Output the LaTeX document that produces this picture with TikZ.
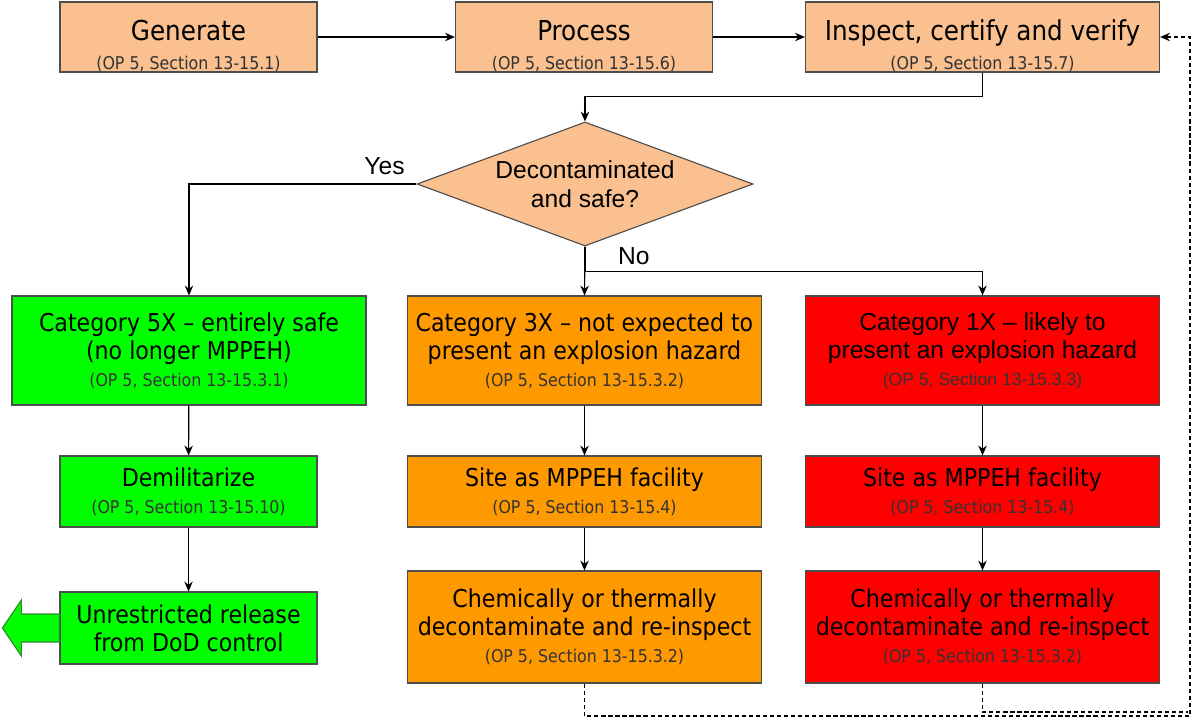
\documentclass[tikz,border=0pt]{standalone}
\usepackage{fontspec}
\setmainfont{DejaVu Sans Condensed}
\newfontfamily\arialfont[Ligatures=TeX]{Liberation Sans}
\usetikzlibrary{shapes.geometric,arrows.meta}

\definecolor{peach}{HTML}{FAC090}
\definecolor{safegreen}{HTML}{00FF00}
\definecolor{hazorange}{HTML}{FF9900}
\definecolor{hazred}{HTML}{FF0000}
\definecolor{edgegrey}{HTML}{4D4D4D}

\newcommand\opref[1]{\\[-1pt]{\fontsize{12.5}{14}\selectfont\color{black!80}(OP 5, Section #1)}}
\newcommand\headstrut{\rule{0pt}{27pt}}

\begin{document}
\begin{tikzpicture}[
		x=0.025cm, y=-0.025cm,
		line width=0.8pt,
		>={Stealth[length=7pt, width=6pt]},
		box/.style={draw=edgegrey, align=center, inner sep=0pt, font=\fontsize{17.5}{20}\selectfont},
		narrow/.style={box, minimum width=6.425cm},
		wide/.style={box, minimum width=8.85cm},
		headbox/.style={fill=peach, minimum height=1.75cm, font=\fontsize{19.5}{22}\selectfont},
		decision/.style={diamond, draw=edgegrey, fill=peach, aspect=2.7, inner sep=0pt,
			minimum width=8.4cm, minimum height=3.1cm, align=center,
			font=\arialfont\fontsize{17.5}{21}\selectfont},
		answer/.style={font=\arialfont\fontsize{17.5}{21}\selectfont},
		loopback/.style={dashed, dash pattern=on 3pt off 2pt}
	]
		\useasboundingbox (0,0) rectangle (1195,719);

		% Top row
		\node[narrow, headbox] (gen) at (188.5, 37) {\headstrut Generate\opref{13-15.1}};
		\node[narrow, headbox] (proc) at (584, 37) {\headstrut Process\opref{13-15.6}};
		\node[wide, headbox] (insp) at (982.5, 37) {\headstrut Inspect, certify and verify\opref{13-15.7}};

		% Decision
		\node[decision] (dec) at (585, 184) {Decontaminated\\and safe?};

		% Categories
		\node[wide, fill=safegreen, minimum height=2.725cm] (cat5) at (189, 350.5)
			{Category 5X -- entirely safe\\(no longer MPPEH)\opref{13-15.3.1}};
		\node[wide, fill=hazorange, minimum height=2.725cm] (cat3) at (584.5, 350.5)
			{Category 3X -- not expected to\\present an explosion hazard\opref{13-15.3.2}};
		\node[wide, fill=hazred, minimum height=2.725cm, font=\arialfont\fontsize{17.5}{20}\selectfont] (cat1) at (982.5, 350.5)
			{Category 1X -- likely to\\present an explosion hazard\\[-1pt]{\fontsize{12.5}{14}\selectfont\color{black!80}(OP 5, Section 13-15.3.3)}};

		% Second row
		\node[narrow, fill=safegreen, minimum height=1.775cm] (demil) at (188.5, 491.5) {Demilitarize\opref{13-15.10}};
		\node[wide, fill=hazorange, minimum height=1.775cm] (site3) at (584.5, 491.5) {Site as MPPEH facility\opref{13-15.4}};
		\node[wide, fill=hazred, minimum height=1.775cm] (site1) at (982.5, 491.5) {Site as MPPEH facility\opref{13-15.4}};

		% Third row
		\node[narrow, fill=safegreen, minimum height=1.8cm] (release) at (188.5, 628) {Unrestricted release\\from DoD control};
		\node[wide, fill=hazorange, minimum height=2.8cm] (decon3) at (584.5, 627)
			{Chemically or thermally\\decontaminate and re-inspect\opref{13-15.3.2}};
		\node[wide, fill=hazred, minimum height=2.8cm] (decon1) at (982.5, 627)
			{Chemically or thermally\\decontaminate and re-inspect\opref{13-15.3.2}};

		% Return path
		\coordinate (rtop) at (1190, 37);
		\coordinate (rbot) at (1190, 716);
		\coordinate (rmid) at (1188, 712);

		% Arrows
		\draw[->] (gen) -- (proc);
		\draw[->] (proc) -- (insp);
		\draw[->] (insp.south) -- ++(0,24) -| (dec.north);
		\draw[->] (dec.west) -| node[pos=0.07, above=3pt, answer] {Yes} (cat5.north);
		\draw[->] (dec.south) -- node[pos=0.2, right=0.7cm, answer] {No} (cat3.north);
		\draw[->] (dec.south) -- ++(0,25) -| (cat1.north);
		\draw[->] (cat5) -- (demil);
		\draw[->] (demil) -- (release);
		\draw[->] (cat3) -- (site3);
		\draw[->] (site3) -- (decon3);
		\draw[->] (cat1) -- (site1);
		\draw[->] (site1) -- (decon1);
		\draw[->, loopback] (decon3.south) |- (rbot) -- (rtop) -- (insp.east);
		\draw[loopback] (decon1.south) |- (rmid);

		% Release arrow
		\draw[fill=safegreen, draw=edgegrey!70!green] (release.west) ++(0,-14) -- ++(-38,0) -- ++(0,-14)
			-- ++(-19,28) -- ++(19,28) -- ++(0,-14) -- ++(38,0) -- cycle;
	\end{tikzpicture}
\end{document}
